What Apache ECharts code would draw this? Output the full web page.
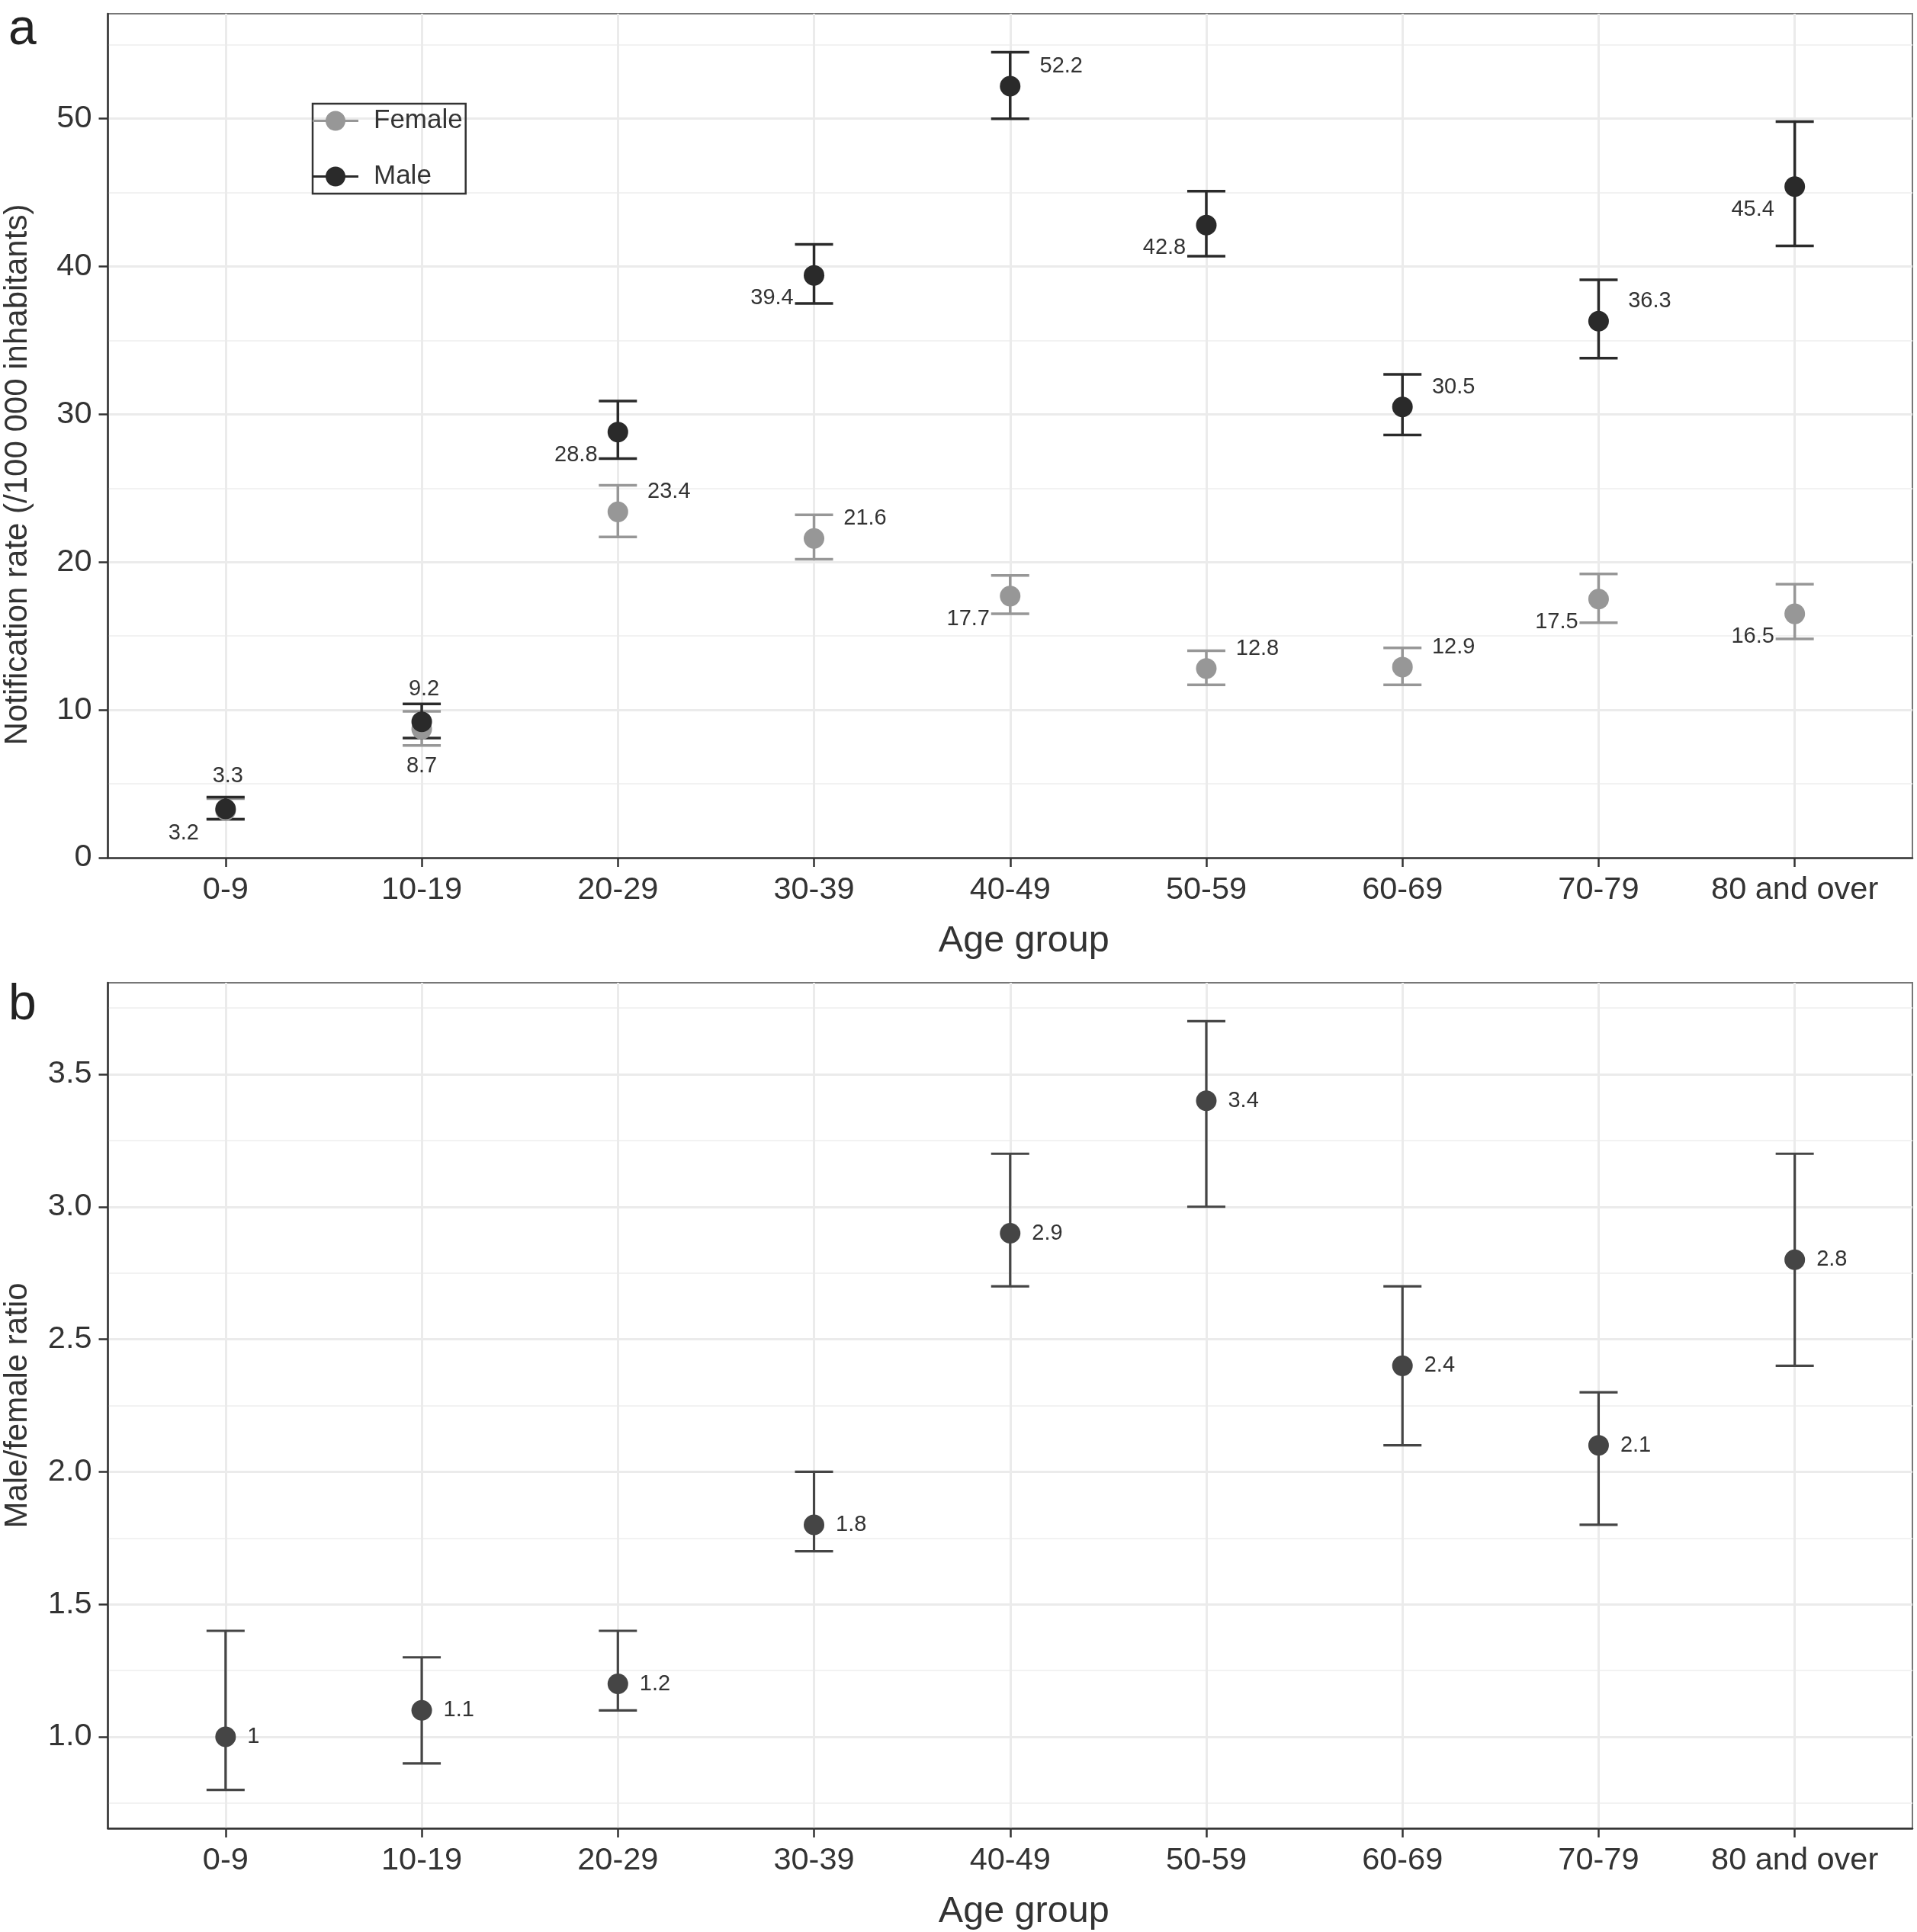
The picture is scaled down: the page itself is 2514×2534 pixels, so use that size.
<!DOCTYPE html>
<html><head><meta charset="utf-8">
<script src="https://cdn.jsdelivr.net/npm/echarts@6/dist/echarts.min.js"></script>
<style>html,body{margin:0;padding:0;background:#fff}#c{width:2514px;height:2534px}</style>
</head><body><div id="c"></div>
<script>
// ---------- data ----------
const ageGroups = ['0-9', '10-19', '20-29', '30-39', '40-49', '50-59', '60-69', '70-79', '80 and over'];
const femaleRate = [3.2, 8.7, 23.4, 21.6, 17.7, 12.8, 12.9, 17.5, 16.5];
const femaleLow  = [2.6, 7.6, 21.7, 20.2, 16.5, 11.7, 11.7, 15.9, 14.8];
const femaleHigh = [4.0, 9.9, 25.2, 23.2, 19.1, 14.0, 14.2, 19.2, 18.5];
const maleRate = [3.3, 9.2, 28.8, 39.4, 52.2, 42.8, 30.5, 36.3, 45.4];
const maleLow  = [2.6, 8.1, 27.0, 37.5, 50.0, 40.7, 28.6, 33.8, 41.4];
const maleHigh = [4.1, 10.4, 30.9, 41.5, 54.5, 45.1, 32.7, 39.1, 49.8];
const ratio     = [1.0, 1.1, 1.2, 1.8, 2.9, 3.4, 2.4, 2.1, 2.8];
const ratioLow  = [0.8, 0.9, 1.1, 1.7, 2.7, 3.0, 2.1, 1.8, 2.4];
const ratioHigh = [1.4, 1.3, 1.4, 2.0, 3.2, 3.7, 2.7, 2.3, 3.2];
const rateTicks = [0, 10, 20, 30, 40, 50];
const rateMinorTicks = [5, 15, 25, 35, 45, 55];
const ratioTicks = [1.0, 1.5, 2.0, 2.5, 3.0, 3.5];
const ratioMinorTicks = [0.75, 1.25, 1.75, 2.25, 2.75, 3.25, 3.75];
// label placement codes (ll = lower-left, ur = upper-right, t = top, b = bottom)
const femaleLabelPlace = ['ll', 'b', 'ur', 'ur', 'll', 'ur', 'ur', 'll', 'll'];
const maleLabelPlace   = ['t', 't', 'll', 'll', 'ur', 'll', 'ur', 'ur', 'll'];

// ---------- styling ----------
const FONT = '"Liberation Sans", Arial, Helvetica, sans-serif';
const TXT = '#333333';
const FEMALE_COL = '#979797';
const MALE_COL = '#2a2a2a';
const RATIO_COL = '#454545';
const placeOffsets = { ll: [-55, 30], ur: [67, -26], t: [3, -43], b: [0, 49] };
const catIdx = ageGroups.map((_, i) => i);

function pointData(vals, places) {
  return vals.map((v, i) => ({ value: [i, v], label: { offset: placeOffsets[places[i]] } }));
}
function ciData(lo, hi) { return lo.map((l, i) => [i, l, hi[i]]); }
function ciRender(color, lw) {
  return function (params, api) {
    const x = api.value(0);
    const lo = api.coord([x, api.value(1)]);
    const hi = api.coord([x, api.value(2)]);
    const hw = 25;
    const st = { stroke: color, lineWidth: lw, fill: null };
    return { type: 'group', children: [
      { type: 'line', shape: { x1: lo[0], y1: lo[1], x2: hi[0], y2: hi[1] }, style: st },
      { type: 'line', shape: { x1: lo[0] - hw, y1: lo[1], x2: lo[0] + hw, y2: lo[1] }, style: st },
      { type: 'line', shape: { x1: hi[0] - hw, y1: hi[1], x2: hi[0] + hw, y2: hi[1] }, style: st }
    ] };
  };
}
function xAxisDef(gridIndex) {
  return {
    type: 'value', gridIndex, min: -0.6, max: 8.6,
    axisLine: { show: true, onZero: false, lineStyle: { color: TXT, width: 2.5 } },
    axisTick: { show: true, length: 12, customValues: catIdx, lineStyle: { color: TXT, width: 2.5 } },
    axisLabel: { customValues: catIdx, formatter: v => ageGroups[Math.round(v)], fontSize: 41.5, color: TXT, margin: 22, fontFamily: FONT },
    splitLine: { show: true, lineStyle: { color: '#ebebeb', width: 3 } },
    name: 'Age group', nameLocation: 'middle', nameGap: 85,
    nameTextStyle: { fontSize: 48.5, color: TXT, fontFamily: FONT, padding: [0, 0, 0, 36] }
  };
}
function yMainDef(gridIndex, min, max, ticks, fmt, name, padding) {
  return {
    type: 'value', gridIndex, min, max,
    axisLine: { show: true, onZero: false, lineStyle: { color: TXT, width: 2.5 } },
    axisTick: { show: true, length: 12, customValues: ticks, lineStyle: { color: TXT, width: 2.5 } },
    axisLabel: { customValues: ticks, formatter: fmt, fontSize: 41.5, color: TXT, margin: 21, fontFamily: FONT },
    splitLine: { show: true, lineStyle: { color: '#ebebeb', width: 3 } },
    name, nameLocation: 'middle', nameGap: 97,
    nameTextStyle: { fontSize: 42, color: TXT, fontFamily: FONT, padding }
  };
}
function yMinorDef(gridIndex, min, max, ticks) {
  return {
    type: 'value', gridIndex, min, max, position: 'left',
    axisLine: { show: false }, axisTick: { show: false, customValues: ticks },
    axisLabel: { show: false, customValues: ticks },
    splitLine: { show: true, lineStyle: { color: '#f2f2f2', width: 2 } }
  };
}

const chart = echarts.init(document.getElementById('c'));
chart.setOption({
  animation: false,
  backgroundColor: '#ffffff',
  grid: [
    { left: 141.5, right: 6, top: 18, bottom: 2534 - 1125, show: true, borderColor: '#777777', borderWidth: 2, containLabel: false, outerBoundsMode: 'none' },
    { left: 141.5, right: 6, top: 1289, bottom: 2534 - 2398, show: true, borderColor: '#777777', borderWidth: 2, containLabel: false, outerBoundsMode: 'none' }
  ],
  xAxis: [xAxisDef(0), xAxisDef(1)],
  yAxis: [
    yMainDef(0, 0, 57.1, rateTicks, v => String(v), 'Notification rate (/100 000 inhabitants)', [0, 102, 0, 0]),
    yMinorDef(0, 0, 57.1, rateMinorTicks),
    yMainDef(1, 0.655, 3.845, ratioTicks, v => Number(v).toFixed(1), 'Male/female ratio', 0),
    yMinorDef(1, 0.655, 3.845, ratioMinorTicks)
  ],
  legend: {
    data: ['Female', 'Male'], orient: 'vertical', left: 410, top: 136,
    icon: 'path://M0,11.5h60v3h-60z M17,13a13,13 0 1,1 26,0a13,13 0 1,1 -26,0z',
    itemWidth: 60, itemHeight: 26, itemGap: 38, padding: [5, 4, 5, 0],
    borderColor: '#333333', borderWidth: 2.5, selectedMode: false,
    textStyle: { fontSize: 35, color: TXT, fontFamily: FONT, lineHeight: 26, padding: [0, 0, 0, 15] }
  },
  graphic: [
    { type: 'text', x: 11, y: 40, style: { text: 'a', fontSize: 66, fill: '#222', fontFamily: FONT, align: 'left', verticalAlign: 'middle' } },
    { type: 'text', x: 11, y: 1319, style: { text: 'b', fontSize: 66, fill: '#222', fontFamily: FONT, align: 'left', verticalAlign: 'middle' } }
  ],
  series: [
    { type: 'custom', name: 'Female CI', xAxisIndex: 0, yAxisIndex: 0, renderItem: ciRender(FEMALE_COL, 3.5), data: ciData(femaleLow, femaleHigh), encode: { x: 0, y: [1, 2] }, clip: false, z: 2 },
    { type: 'custom', name: 'Male CI', xAxisIndex: 0, yAxisIndex: 0, renderItem: ciRender(MALE_COL, 3.5), data: ciData(maleLow, maleHigh), encode: { x: 0, y: [1, 2] }, clip: false, z: 2 },
    { type: 'scatter', name: 'Female', xAxisIndex: 0, yAxisIndex: 0, symbolSize: 27, itemStyle: { color: FEMALE_COL, opacity: 1 }, z: 3,
      label: { show: true, position: 'inside', formatter: p => String(p.value[1]), fontSize: 29, color: TXT, fontFamily: FONT },
      data: pointData(femaleRate, femaleLabelPlace) },
    { type: 'scatter', name: 'Male', xAxisIndex: 0, yAxisIndex: 0, symbolSize: 27, itemStyle: { color: MALE_COL, opacity: 1 }, z: 3,
      label: { show: true, position: 'inside', formatter: p => String(p.value[1]), fontSize: 29, color: TXT, fontFamily: FONT },
      data: pointData(maleRate, maleLabelPlace) },
    { type: 'custom', name: 'Ratio CI', xAxisIndex: 1, yAxisIndex: 2, renderItem: ciRender(RATIO_COL, 3.2), data: ciData(ratioLow, ratioHigh), encode: { x: 0, y: [1, 2] }, clip: false, z: 2 },
    { type: 'scatter', name: 'Ratio', xAxisIndex: 1, yAxisIndex: 2, symbolSize: 27, itemStyle: { color: RATIO_COL, opacity: 1 }, z: 3,
      label: { show: true, position: 'right', distance: 15, formatter: p => String(p.value[1]), fontSize: 29, color: TXT, fontFamily: FONT },
      data: ratio.map((v, i) => [i, v]) }
  ]
});
</script>
</body></html>
